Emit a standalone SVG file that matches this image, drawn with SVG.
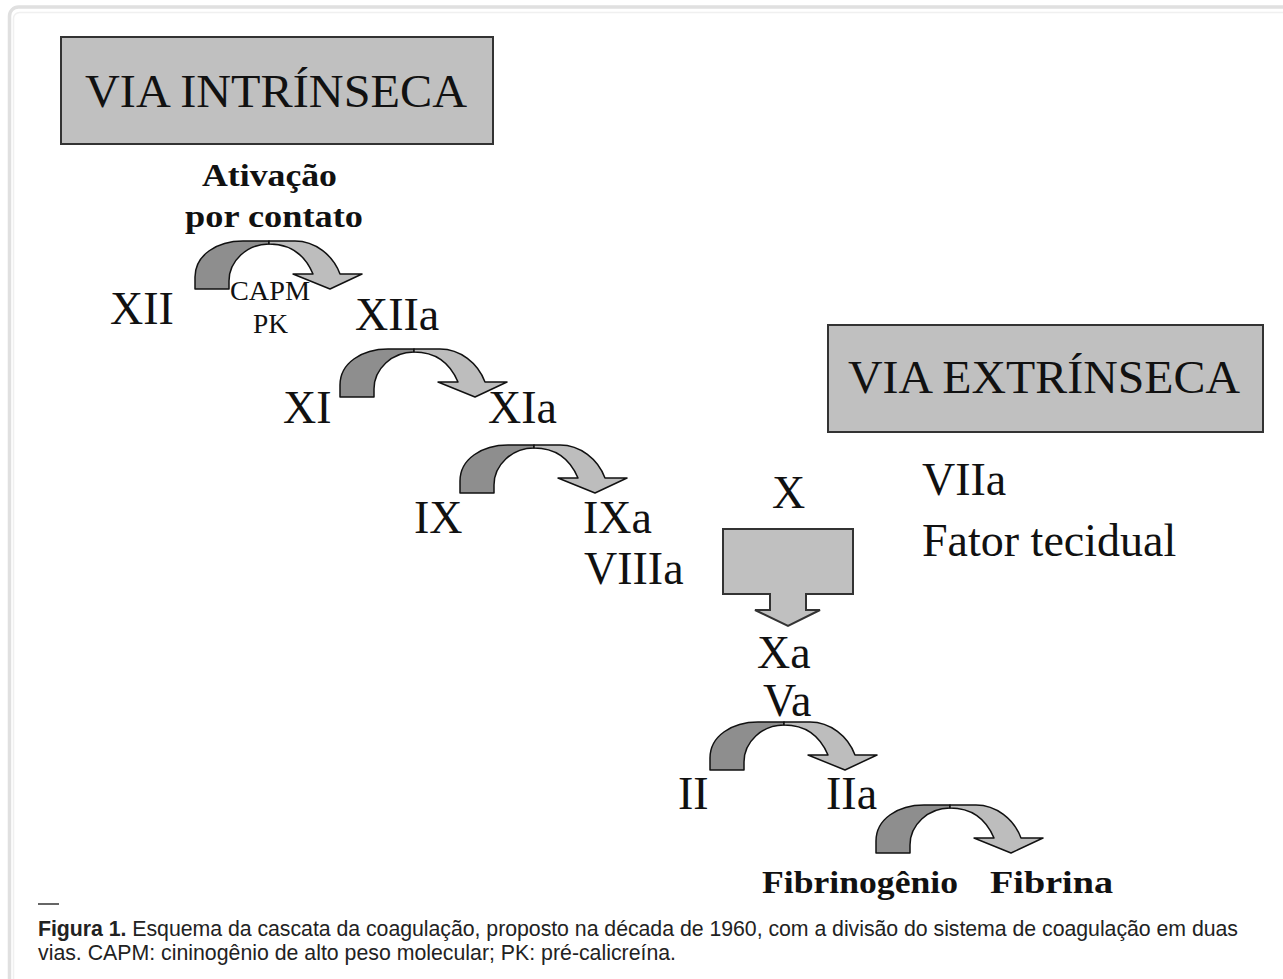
<svg xmlns="http://www.w3.org/2000/svg" width="1283" height="979" viewBox="0 0 1283 979">
<style>
.lbl{font-family:"Liberation Serif","Times New Roman",serif;font-size:46px;fill:#111}
.big{font-family:"Liberation Serif","Times New Roman",serif;font-size:47px;fill:#111}
.bld{font-family:"Liberation Serif","Times New Roman",serif;font-size:31px;font-weight:bold;fill:#111}
.sml{font-family:"Liberation Serif","Times New Roman",serif;font-size:27px;fill:#111}
.cap{font-family:"Liberation Sans",Arial,sans-serif;font-size:21.3px;fill:#222}
.box{fill:#c0c0c0;stroke:#333;stroke-width:2}
.dk{fill:#8e8e8e;stroke:#111;stroke-width:1.5;stroke-linejoin:round}
.lt{fill:#bdbdbd;stroke:#111;stroke-width:1.5;stroke-linejoin:round}
</style>
<defs>
<g id="curve">
<path class="dk" d="M0,48 L0,36 C0,14 22,0 48,0 L74,0 L74,3 C52,3 34,20 34,40 L34,48 Z"/>
<path class="lt" d="M74,0 L100,0 C120,0 138,14 145,33 L167,33 L135,48 L98,33 L118,33 C110,14 95,3 74,3 Z"/>
</g>
</defs>
<rect width="1283" height="979" fill="#fff"/>
<rect x="9.5" y="7" width="1300" height="1000" rx="9" fill="none" stroke="#e0e0e0" stroke-width="3.5"/>
<rect x="13.5" y="12.5" width="1290" height="990" rx="6" fill="none" stroke="#f0f0f0" stroke-width="1.5"/>

<g id="via-intrinseca">
<rect class="box" x="61" y="37" width="432" height="107"/>
<text class="big" x="85" y="107" textLength="382" lengthAdjust="spacingAndGlyphs">VIA INTRÍNSECA</text>
</g>
<g id="via-extrinseca">
<rect class="box" x="828" y="325" width="435" height="107"/>
<text class="big" x="848" y="393" textLength="392" lengthAdjust="spacingAndGlyphs">VIA EXTRÍNSECA</text>
</g>
<g id="ativacao">
<text class="bld" x="202" y="186" textLength="135" lengthAdjust="spacingAndGlyphs">Ativação</text>
<text class="bld" x="185" y="227" textLength="178" lengthAdjust="spacingAndGlyphs">por contato</text>
</g>
<g id="capm-pk">
<text class="sml" x="230" y="300" textLength="80" lengthAdjust="spacingAndGlyphs">CAPM</text>
<text class="sml" x="253" y="333" textLength="35" lengthAdjust="spacingAndGlyphs">PK</text>
</g>
<g id="f-xii"><text class="lbl" x="110" y="324">XII</text></g>
<g id="f-xiia"><text class="lbl" x="355" y="330">XIIa</text></g>
<g id="f-xi"><text class="lbl" x="283" y="423">XI</text></g>
<g id="f-xia"><text class="lbl" x="488" y="423">XIa</text></g>
<g id="f-ix"><text class="lbl" x="414" y="533">IX</text></g>
<g id="f-ixa"><text class="lbl" x="583" y="533">IXa</text></g>
<g id="f-viiia"><text class="lbl" x="584" y="584">VIIIa</text></g>
<g id="f-x"><text class="lbl" x="772" y="508">X</text></g>
<g id="f-viia"><text class="lbl" x="922" y="495">VIIa</text></g>
<g id="f-tecidual"><text class="lbl" x="922" y="556">Fator tecidual</text></g>
<g id="f-xa"><text class="lbl" x="757" y="668">Xa</text></g>
<g id="f-va"><text class="lbl" x="763" y="716">Va</text></g>
<g id="f-ii"><text class="lbl" x="678" y="809">II</text></g>
<g id="f-iia"><text class="lbl" x="826" y="809">IIa</text></g>
<g id="fibrinogenio"><text class="bld" x="762" y="893" textLength="196" lengthAdjust="spacingAndGlyphs">Fibrinogênio</text></g>
<g id="fibrina"><text class="bld" x="990" y="893" textLength="123" lengthAdjust="spacingAndGlyphs">Fibrina</text></g>

<g id="connectors">
<use href="#curve" transform="translate(195,241)"/>
<use href="#curve" transform="translate(340,349)"/>
<use href="#curve" transform="translate(460,445)"/>
<use href="#curve" transform="translate(710,722)"/>
<use href="#curve" transform="translate(876,805)"/>
<path d="M723,529 H853 V594 H806 V610 H820 L788,626 L755,610 H770 V594 H723 Z" fill="#c0c0c0" stroke="#333" stroke-width="2" stroke-linejoin="miter"/>
</g>

<g id="caption">
<line x1="38" y1="904" x2="59" y2="904" stroke="#333" stroke-width="1.5"/>
<text class="cap" x="38" y="936" textLength="1200" lengthAdjust="spacing"><tspan font-weight="bold">Figura 1.</tspan> Esquema da cascata da coagulação, proposto na década de 1960, com a divisão do sistema de coagulação em duas</text>
<text class="cap" x="38" y="960">vias. CAPM: cininogênio de alto peso molecular; PK: pré-calicreína.</text>
</g>
</svg>
